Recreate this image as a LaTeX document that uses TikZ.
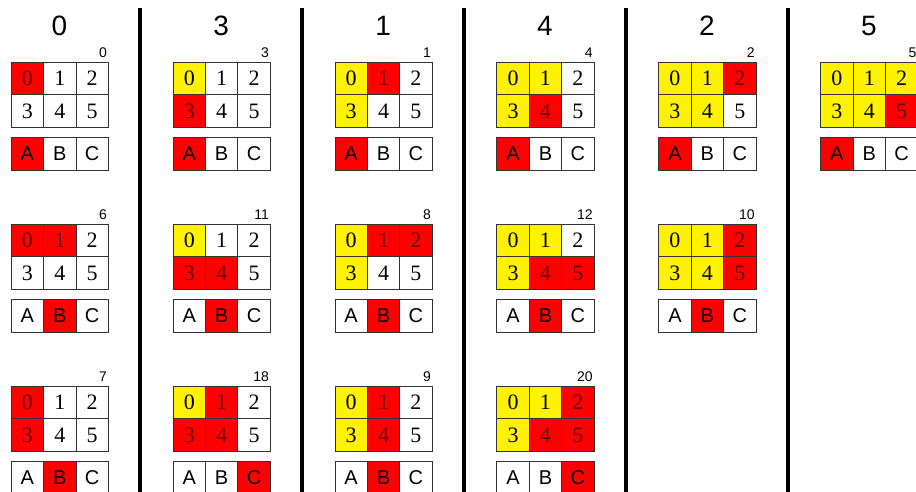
\documentclass[tikz,border=0pt]{standalone}
\usepackage{fontspec}
\setmainfont{Liberation Serif}
\setsansfont{Liberation Sans}
\definecolor{txtred}{rgb}{0.38,0,0}
\tikzset{
  cellbox/.style={draw=black!80, line width=0.9pt, minimum width=32.4pt, minimum height=32.5pt,
    inner sep=0pt, anchor=north west, font=\fontsize{22}{22}\selectfont},
  cW/.style={fill=white, text=black},
  cY/.style={fill=yellow, text=black},
  cR/.style={fill=red, text=txtred},
  abcbox/.style={draw=black!80, line width=0.9pt, minimum width=32.4pt, minimum height=32.5pt,
    inner sep=0pt, anchor=north west, font=\sffamily\fontsize{20}{20}\selectfont},
  aW/.style={fill=white},
  aR/.style={fill=red},
  lbl/.style={font=\sffamily\fontsize{14}{14}\selectfont, inner sep=0pt, anchor=base east},
  hdr/.style={font=\sffamily\fontsize{28}{28}\selectfont, inner sep=0pt, anchor=base},
  sep/.style={line width=3.5pt, black}
}
\newcommand\panel[5]{%
  \pgfmathsetmacro\pL{10.7+#1*161.9}%
  \pgfmathsetmacro\pT{61.7+#2*162}%
  \foreach \c [count=\i from 0] in {#4} {%
    \pgfmathtruncatemacro\cc{mod(\i,3)}%
    \pgfmathtruncatemacro\rr{div(\i,3)}%
    \node[cellbox,\c] (g#1#2\i) at (\pL+\cc*32.4, \pT+\rr*32.5) {\i};
  }%
  \foreach \t [count=\j from 0] in {A,B,C} {%
    \ifnum\j=#5\relax\def\st{aR}\else\def\st{aW}\fi
    \node[abcbox,\st] (a#1#2\j) at (\pL+\j*32.4, \pT+75.6) {\t};
  }%
  \node[lbl] (l#1#2) at (\pL+96.5, \pT-4.5) {#3};
}
\begin{document}
\begin{tikzpicture}[x=1pt,y=-1pt]
\fill[white] (0,0) rectangle (916,491);
\useasboundingbox (0,0) rectangle (916,491);
\clip (0,0) rectangle (916,491);
% headers
\foreach \h [count=\k from 0] in {0,3,1,4,2,5}
  \node[hdr] (h\k) at (59.3+\k*161.9, 35) {\h};
% separators
\foreach \k in {0,...,4} {
  \coordinate (st\k) at (140.2+\k*161.9, 8);
  \coordinate (sb\k) at (140.2+\k*161.9, 495);
  \draw[sep] (st\k) -- (sb\k);
}
% column 0
\panel{0}{0}{0}{cR,cW,cW,cW,cW,cW}{0}
\panel{0}{1}{6}{cR,cR,cW,cW,cW,cW}{1}
\panel{0}{2}{7}{cR,cW,cW,cR,cW,cW}{1}
% column 3
\panel{1}{0}{3}{cY,cW,cW,cR,cW,cW}{0}
\panel{1}{1}{11}{cY,cW,cW,cR,cR,cW}{1}
\panel{1}{2}{18}{cY,cR,cW,cR,cR,cW}{2}
% column 1
\panel{2}{0}{1}{cY,cR,cW,cY,cW,cW}{0}
\panel{2}{1}{8}{cY,cR,cR,cY,cW,cW}{1}
\panel{2}{2}{9}{cY,cR,cW,cY,cR,cW}{1}
% column 4
\panel{3}{0}{4}{cY,cY,cW,cY,cR,cW}{0}
\panel{3}{1}{12}{cY,cY,cW,cY,cR,cR}{1}
\panel{3}{2}{20}{cY,cY,cR,cY,cR,cR}{2}
% column 2
\panel{4}{0}{2}{cY,cY,cR,cY,cY,cW}{0}
\panel{4}{1}{10}{cY,cY,cR,cY,cY,cR}{1}
% column 5
\panel{5}{0}{5}{cY,cY,cY,cY,cY,cR}{0}
\end{tikzpicture}
\end{document}
